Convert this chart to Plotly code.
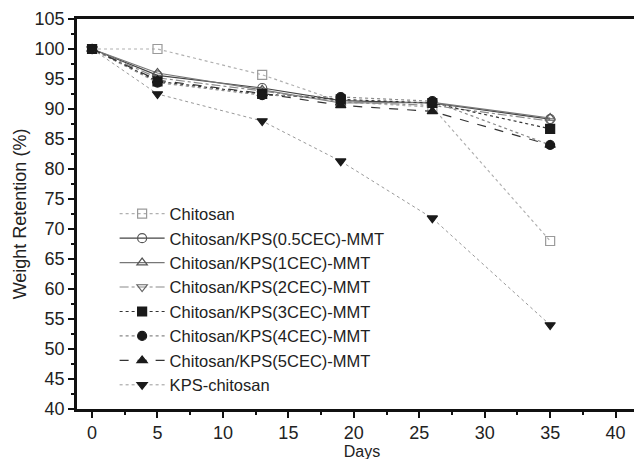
import plotly.graph_objects as go

days = [0, 5, 13, 19, 26, 35]

series_names = [
    "Chitosan",
    "Chitosan/KPS(0.5CEC)-MMT",
    "Chitosan/KPS(1CEC)-MMT",
    "Chitosan/KPS(2CEC)-MMT",
    "Chitosan/KPS(3CEC)-MMT",
    "Chitosan/KPS(4CEC)-MMT",
    "Chitosan/KPS(5CEC)-MMT",
    "KPS-chitosan",
]

chitosan = [100, 100, 95.7, 91.2, 90.3, 68.0]
cec05 = [100, 95.6, 93.5, 91.4, 91.0, 88.3]
cec1 = [100, 96.0, 93.2, 91.0, 91.1, 88.5]
cec2 = [100, 95.2, 93.0, 91.2, 90.6, 88.0]
cec3 = [100, 94.6, 92.5, 91.6, 91.0, 86.7]
cec4 = [100, 94.4, 92.3, 92.0, 91.3, 84.0]
cec5 = [100, 94.8, 92.6, 90.6, 89.6, 84.0]
kps_chitosan = [100, 92.5, 88.0, 81.3, 71.8, 54.0]

values = [chitosan, cec05, cec1, cec2, cec3, cec4, cec5, kps_chitosan]

styles = [
    dict(symbol="square-open", mcolor="#9a9a9a", lcolor="#b0b0b0", dash="dot", lw=1.2),
    dict(symbol="circle-open", mcolor="#555555", lcolor="#444444", dash="solid", lw=1.2),
    dict(symbol="triangle-up-open", mcolor="#555555", lcolor="#777777", dash="solid", lw=1.2),
    dict(symbol="triangle-down-open", mcolor="#666666", lcolor="#8a8a8a", dash="dashdot", lw=1.2),
    dict(symbol="square", mcolor="#1a1a1a", lcolor="#333333", dash="dot", lw=1.2),
    dict(symbol="circle", mcolor="#1a1a1a", lcolor="#888888", dash="dot", lw=1.2),
    dict(symbol="triangle-up", mcolor="#1a1a1a", lcolor="#333333", dash="dash", lw=1.2),
    dict(symbol="triangle-down", mcolor="#1a1a1a", lcolor="#999999", dash="dot", lw=1.0),
]

fig = go.Figure()
for i, (name, vals, st) in enumerate(zip(series_names, values, styles)):
    fig.add_trace(go.Scatter(
        x=days, y=vals, name=name, mode="lines+markers",
        legendgroup=f"g{i}",
        line=dict(color=st["lcolor"], dash=st["dash"], width=st["lw"]),
        marker=dict(symbol=st["symbol"], size=9, color=st["mcolor"],
                    line=dict(color=st["mcolor"], width=1.2)),
    ))

fig.update_layout(
    width=642, height=459,
    margin=dict(l=69, r=0, t=11, b=58),
    paper_bgcolor="white", plot_bgcolor="white",
    font=dict(family="Liberation Sans, Arial, sans-serif", color="#222222"),
    showlegend=True,
    legend=dict(
        x=0.066, y=0.545, xanchor="left", yanchor="top",
        bgcolor="rgba(0,0,0,0)", font=dict(size=16.5, color="#222222"),
        tracegroupgap=0, itemwidth=45,
    ),
    xaxis=dict(
        range=[-1.15, 42.4], tickmode="array",
        tickvals=[0, 5, 10, 15, 20, 25, 30, 35, 40],
        ticks="outside", ticklen=6, tickwidth=1.5, tickcolor="#111111",
        minor=dict(tickvals=[2.5, 7.5, 12.5, 17.5, 22.5, 27.5, 32.5, 37.5, 42.5], ticks="outside",
                   ticklen=3, tickwidth=1.5, tickcolor="#111111"),
        showline=True, linewidth=2.5, linecolor="#111111", mirror=True,
        showgrid=False, zeroline=False,
        tickfont=dict(size=18),
        title=dict(text="Days", font=dict(size=16), standoff=0),
    ),
    yaxis=dict(
        range=[40, 105], tickmode="array",
        tickvals=list(range(40, 106, 5)),
        ticks="outside", ticklen=6, tickwidth=1.5, tickcolor="#111111",
        minor=dict(tickvals=[42.5 + 5 * k for k in range(13)], ticks="outside",
                   ticklen=3, tickwidth=1.5, tickcolor="#111111"),
        showline=True, linewidth=2.5, linecolor="#111111", mirror=True,
        showgrid=False, zeroline=False,
        tickfont=dict(size=18),
        title=dict(text="Weight Retention (%)", font=dict(size=18), standoff=4),
    ),
)

fig.write_html("out.html")
